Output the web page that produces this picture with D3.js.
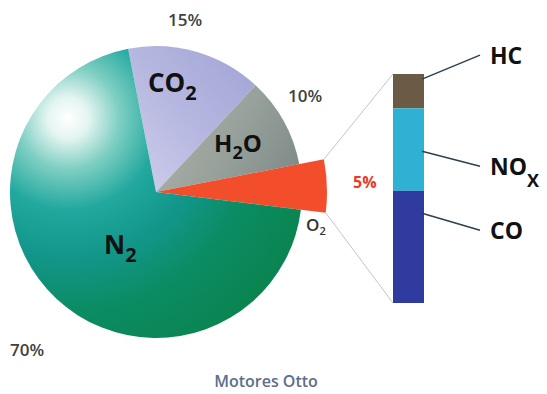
<!DOCTYPE html>
<html>
<head>
<meta charset="utf-8">
<script src="https://cdn.jsdelivr.net/npm/d3@7/dist/d3.min.js"></script>
<style>
  html, body { margin: 0; padding: 0; background: #ffffff; }
  svg { display: block; }
</style>
</head>
<body>
<svg id="chart" width="547" height="394"></svg>
<script>
// Exhaust gas composition of a spark-ignition (Otto) engine
const gases = ["CO2", "H2O", "Contaminantes", "N2"];
const gasShares = [15, 10, 5, 70];
const gasPercentLabels = ["15%", "10%", "5%", "70%"];

// Breakdown of the pollutant share shown in the stacked bar
const pollutants = ["HC", "NOx", "CO"];
const pollutantShares = [15, 36, 49];

const chartTitle = "Motores Otto";

const svg = d3.select("#chart");
const defs = svg.append("defs");

const cx = 156, cy = 192, radius = 146, explodedRadius = 171;
const deg = Math.PI / 180;

// ---- gradients (coordinates relative to the pie centre) ----
const gN2 = defs.append("radialGradient").attr("id", "gN2")
  .attr("gradientUnits", "userSpaceOnUse")
  .attr("cx", 68 - cx).attr("cy", 118 - cy).attr("r", 255);
[[0, "#ffffff"], [0.08, "#e4f5f1"], [0.2, "#7fcfc3"], [0.36, "#22a89e"],
 [0.55, "#12968a"], [0.75, "#0c8c64"], [1, "#0a8552"]]
  .forEach(([o, c]) => gN2.append("stop").attr("offset", o).attr("stop-color", c));

const gCO2 = defs.append("linearGradient").attr("id", "gCO2")
  .attr("gradientUnits", "userSpaceOnUse")
  .attr("x1", 130 - cx).attr("y1", 170 - cy).attr("x2", 250 - cx).attr("y2", 70 - cy);
[[0, "#cbcbe9"], [0.5, "#b6b7e0"], [1, "#a4a7d6"]]
  .forEach(([o, c]) => gCO2.append("stop").attr("offset", o).attr("stop-color", c));

const gH2O = defs.append("linearGradient").attr("id", "gH2O")
  .attr("gradientUnits", "userSpaceOnUse")
  .attr("x1", 190 - cx).attr("y1", 110 - cy).attr("x2", 300 - cx).attr("y2", 170 - cy);
[[0, "#a7aca6"], [0.5, "#949e98"], [1, "#7f8b89"]]
  .forEach(([o, c]) => gH2O.append("stop").attr("offset", o).attr("stop-color", c));

const fills = {
  "N2": "url(#gN2)",
  "CO2": "url(#gCO2)",
  "H2O": "url(#gH2O)",
  "Contaminantes": "#f24e2c"
};

// ---- pie ----
const gasData = gases.map((name, i) => ({ name, value: gasShares[i], label: gasPercentLabels[i] }));

const pie = d3.pie()
  .sort(null)
  .value(d => d.value)
  .startAngle(-11 * deg)
  .endAngle(349 * deg);

const arcs = pie(gasData);
const arcMain = d3.arc().innerRadius(0).outerRadius(radius);
const arcExploded = d3.arc().innerRadius(0).outerRadius(explodedRadius);

const pieG = svg.append("g").attr("transform", `translate(${cx},${cy})`);

pieG.selectAll("path.slice")
  .data(arcs)
  .join("path")
  .attr("class", "slice")
  .attr("d", d => d.data.name === "Contaminantes" ? arcExploded(d) : arcMain(d))
  .attr("fill", d => fills[d.data.name]);

// ---- stacked bar for the pollutant breakdown ----
const barX = 393, barW = 31, barTop = 74, barBottom = 303;
const total = d3.sum(pollutantShares);
const yBar = d3.scaleLinear().domain([0, total]).range([barTop, barBottom]);

let acc = 0;
const barData = pollutants.map((name, i) => {
  const d = { name, start: acc, end: acc + pollutantShares[i] };
  acc += pollutantShares[i];
  return d;
});

const barColors = { "HC": "#6a5a46", "NOx": "#2fb1d3", "CO": "#2f3b9e" };

// connector lines from the exploded slice to the bar
const slice = arcs.find(a => a.data.name === "Contaminantes");
const tipTop = [cx + explodedRadius * Math.sin(slice.startAngle), cy - explodedRadius * Math.cos(slice.startAngle)];
const tipBottom = [cx + explodedRadius * Math.sin(slice.endAngle), cy - explodedRadius * Math.cos(slice.endAngle)];

svg.append("line")
  .attr("x1", tipTop[0]).attr("y1", tipTop[1])
  .attr("x2", barX).attr("y2", yBar(0))
  .attr("stroke", "#c4c4c4").attr("stroke-width", 1);
svg.append("line")
  .attr("x1", tipBottom[0]).attr("y1", tipBottom[1])
  .attr("x2", barX).attr("y2", yBar(total))
  .attr("stroke", "#c4c4c4").attr("stroke-width", 1);

svg.selectAll("rect.seg")
  .data(barData)
  .join("rect")
  .attr("class", "seg")
  .attr("x", barX)
  .attr("y", d => yBar(d.start))
  .attr("width", barW)
  .attr("height", d => yBar(d.end) - yBar(d.start))
  .attr("fill", d => barColors[d.name]);

// leader lines and names for the bar segments
const leader = {
  "HC":  { at: 0.15, rise: -24 },
  "NOx": { at: 0.52, rise: 15 },
  "CO":  { at: 0.2,  rise: 17 }
};
const labelX = 480;
barData.forEach(d => {
  const y0 = yBar(d.start + (d.end - d.start) * leader[d.name].at);
  const y1 = y0 + leader[d.name].rise;
  svg.append("line")
    .attr("x1", barX + barW - 2).attr("y1", y0)
    .attr("x2", labelX).attr("y2", y1)
    .attr("stroke", "#2e3f52").attr("stroke-width", 1.5);
  const t = svg.append("text")
    .attr("x", labelX + 10).attr("y", y1 + 8.5)
    .attr("font-family", "'Open Sans', sans-serif")
    .attr("font-weight", 700).attr("font-size", 23).attr("fill", "#111");
  if (d.name === "NOx") {
    t.append("tspan").text("NO");
    t.append("tspan").attr("font-size", 18).attr("dy", 12).text("X");
  } else {
    t.text(d.name);
  }
});

// ---- labels inside the pie ----
function formula(x, y, parts, size, subSize, weight, color) {
  const t = svg.append("text")
    .attr("x", x).attr("y", y)
    .attr("font-family", "'Open Sans', sans-serif")
    .attr("font-weight", weight).attr("font-size", size).attr("fill", color);
  parts.forEach(([txt, sub]) => {
    if (sub) {
      t.append("tspan").attr("font-size", subSize).attr("dy", subSize * 0.38).text(txt);
    } else {
      const s = t.append("tspan").text(txt);
      if (t.selectAll("tspan").size() > 1) s.attr("dy", -subSize * 0.38);
    }
  });
  return t;
}

formula(148, 92, [["CO"], ["2", true]], 26, 20, 700, "#111");
formula(214, 152, [["H"], ["2", true], ["O"]], 24, 18, 700, "#111");
formula(104, 254, [["N"], ["2", true]], 26, 20, 700, "#111");
formula(306, 231, [["O"], ["2", true]], 17, 11, 600, "#333");

// ---- percentage labels ----
const pctStyle = t => t
  .attr("font-family", "'Open Sans', sans-serif")
  .attr("font-size", 17).attr("font-weight", 600).attr("fill", "#3f3f3f");

const pctPos = {
  "CO2": { x: 185, y: 26, anchor: "middle" },
  "H2O": { x: 288, y: 102, anchor: "start" },
  "N2":  { x: 10,  y: 356, anchor: "start" },
  "Contaminantes": { x: 353, y: 188, anchor: "start" }
};
gasData.forEach(d => {
  const p = pctPos[d.name];
  const t = svg.append("text")
    .attr("x", p.x).attr("y", p.y)
    .attr("text-anchor", p.anchor)
    .text(d.label);
  pctStyle(t);
  if (d.name === "Contaminantes") t.attr("fill", "#ec3a28").attr("font-weight", 700).attr("font-size", 16);
});

// ---- title ----
svg.append("text")
  .attr("x", 266).attr("y", 387)
  .attr("text-anchor", "middle")
  .attr("font-family", "'Open Sans', sans-serif")
  .attr("font-size", 16).attr("font-weight", 600)
  .attr("fill", "#5b6f8c")
  .text(chartTitle);
</script>
</body>
</html>
